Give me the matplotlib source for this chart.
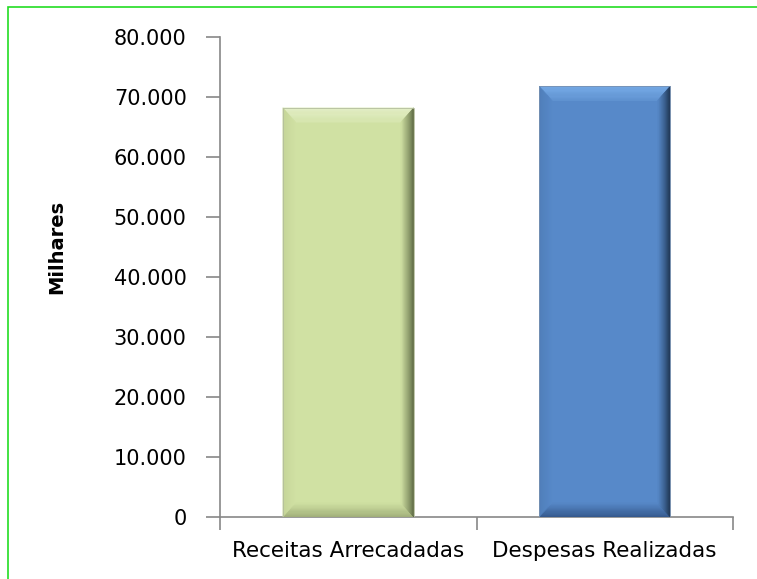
import matplotlib
matplotlib.use("Agg")
import matplotlib.pyplot as plt
from matplotlib.patches import Polygon, Rectangle
import numpy as np

categories = ["Receitas Arrecadadas", "Despesas Realizadas"]
values = [68200, 71800]
yticks = [0, 10000, 20000, 30000, 40000, 50000, 60000, 70000, 80000]
ytick_labels = ["0", "10.000", "20.000", "30.000", "40.000", "50.000", "60.000", "70.000", "80.000"]
ylabel = "Milhares"

base_colors = ["#D0E1A3", "#5789C9"]
top_colors = ["#E4EFC8", "#78ACE8"]
left_colors = ["#C4D498", "#4F7DB8"]
bottom_colors = ["#9FAD78", "#34578A"]
dark_colors = ["#4A5634", "#1A2F4A"]

plt.rcParams['font.family'] = ['DejaVu Sans']

fig = plt.figure(figsize=(7.57, 5.79), dpi=100)
# green outer border (only left and top visible)
fig.patches.append(Rectangle((8/757, -0.5), 2.0, 1.5 - 7/579, transform=fig.transFigure,
                             fill=False, edgecolor="#22DD22", linewidth=1.2, zorder=0))

ax = fig.add_axes([220/757, 1 - 517/579, 513/757, 480/579])
x = np.arange(len(categories))
width = 0.51
bars = ax.bar(x, values, width=width, color=base_colors, edgecolor="none", zorder=2)

def mix(c1, c2, t):
    a = np.array(matplotlib.colors.to_rgb(c1))
    b = np.array(matplotlib.colors.to_rgb(c2))
    return tuple(a * (1 - t) + b * t)

bx = 0.05    # bevel width in x data units
by = 2400    # bevel height in y data units
n = 12
for i, b in enumerate(bars):
    x0, x1 = b.get_x(), b.get_x() + b.get_width()
    y0, y1 = 0, b.get_height()
    for k in range(n):
        t0 = k / n
        t1 = (k + 1) / n
        tm = (t0 + t1) / 2
        col = mix(top_colors[i], base_colors[i], tm * 0.7)
        ax.add_patch(Polygon([(x0 + bx * t0, y1 - by * t0), (x1 - bx * t0, y1 - by * t0),
                              (x1 - bx * t1, y1 - by * t1), (x0 + bx * t1, y1 - by * t1)],
                             closed=True, facecolor=col, edgecolor=col, linewidth=0.3, zorder=3))
        col = mix(bottom_colors[i], base_colors[i], tm)
        ax.add_patch(Polygon([(x0 + bx * t0, y0 + by * t0), (x1 - bx * t0, y0 + by * t0),
                              (x1 - bx * t1, y0 + by * t1), (x0 + bx * t1, y0 + by * t1)],
                             closed=True, facecolor=col, edgecolor=col, linewidth=0.3, zorder=3))
        col = mix(left_colors[i], base_colors[i], tm)
        ax.add_patch(Polygon([(x0 + bx * t0, y0 + by * t0), (x0 + bx * t0, y1 - by * t0),
                              (x0 + bx * t1, y1 - by * t1), (x0 + bx * t1, y0 + by * t1)],
                             closed=True, facecolor=col, edgecolor=col, linewidth=0.3, zorder=3))
        col = mix(dark_colors[i], base_colors[i], tm ** 0.8)
        ax.add_patch(Polygon([(x1 - bx * t0, y0 + by * t0), (x1 - bx * t0, y1 - by * t0),
                              (x1 - bx * t1, y1 - by * t1), (x1 - bx * t1, y0 + by * t1)],
                             closed=True, facecolor=col, edgecolor=col, linewidth=0.3, zorder=4))
    ax.add_patch(Rectangle((x0, y0), x1 - x0, y1 - y0, fill=False,
                           edgecolor=mix(base_colors[i], "#999999", 0.5), linewidth=0.6, zorder=5))

ax.set_xlim(-0.5, 1.5)
ax.set_ylim(0, 80000)
ax.set_yticks(yticks)
ax.set_yticklabels(ytick_labels, fontsize=15)
ax.set_xticks(x)
ax.set_xticklabels(categories, fontsize=15.5)
ax.set_xticks([-0.5, 0.5, 1.5], minor=True)
ax.tick_params(axis='x', which='major', length=0, pad=17)
ax.tick_params(axis='x', which='minor', length=9, direction='out', color="#888888", width=1.2)
ax.tick_params(axis='y', length=10, direction='out', color="#888888", width=1.2, pad=14)
ax.set_ylabel(ylabel, fontsize=14, fontweight='bold')
ax.yaxis.set_label_coords(-0.300, 0.5625)

for s in ["top", "right"]:
    ax.spines[s].set_visible(False)
for s in ["left", "bottom"]:
    ax.spines[s].set_color("#888888")
    ax.spines[s].set_linewidth(1.2)

fig.savefig("out.png", dpi=100)
